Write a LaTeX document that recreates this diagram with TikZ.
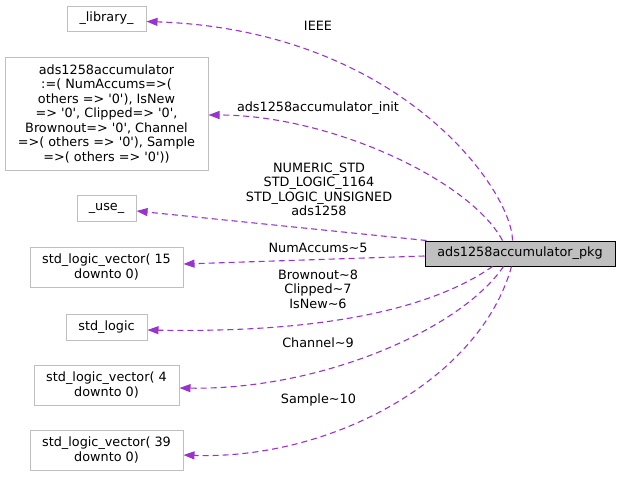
\documentclass[tikz,border=0pt]{standalone}
\usepackage{fontspec}
\setmainfont{DejaVu Sans}
\usetikzlibrary{arrows.meta}
\definecolor{edgec}{HTML}{9A32CD}
\definecolor{boxc}{HTML}{BFBFBF}
\newcommand{\q}{\textquotesingle}
\tikzset{
  every node/.style={font=\fontsize{12.8}{14.5}\selectfont, inner sep=0pt, align=center},
  box/.style={draw=boxc, line width=1pt, fill=white},
  mainbox/.style={draw=black, line width=1pt, fill=boxc},
  dep/.style={draw=edgec, line width=1.1pt, dash pattern=on 6pt off 4pt, -{Triangle[length=11pt,width=8pt]}},
  elabel/.style={}
}
\begin{document}
\begin{tikzpicture}[x=1pt,y=-1pt]
\useasboundingbox (0,0) rectangle (620,477);
% nodes
\node[mainbox, minimum width=190pt, minimum height=25pt] (pkg) at (520,253.5) {ads1258accumulator\_pkg};
\node[box, minimum width=79pt, minimum height=25pt] (lib) at (106.5,18.5) {\_library\_};
\node[box, minimum width=203pt, minimum height=113pt] (acc) at (106.5,113.5) {ads1258accumulator\\ :=( NumAccums=>(\\ others => \q0\q), IsNew\\ => \q0\q, Clipped=> \q0\q,\\ Brownout=> \q0\q, Channel\\ =>( others => \q0\q), Sample\\ =>( others => \q0\q))};
\node[box, minimum width=59pt, minimum height=26pt] (use) at (106.5,208) {\_use\_};
\node[box, minimum width=153pt, minimum height=40pt] (v15) at (106.5,267) {std\_logic\_vector( 15\\ downto 0)};
\node[box, minimum width=81pt, minimum height=26pt] (sl) at (106.5,327) {std\_logic};
\node[box, minimum width=145pt, minimum height=40pt] (v4) at (106.5,385) {std\_logic\_vector( 4\\ downto 0)};
\node[box, minimum width=153pt, minimum height=40pt] (v39) at (106.5,450) {std\_logic\_vector( 39\\ downto 0)};
% edges
\draw[dep] ([xshift=88pt]pkg.north west) .. controls (512,190) and (400,30) .. ([yshift=-3pt]lib.east);
\draw[dep] ([xshift=78pt]pkg.north west) .. controls (470,180) and (330,115) .. ([yshift=-1.5pt]acc.east);
\draw[dep] ([xshift=2pt]pkg.north west) -- ([yshift=-3pt]use.east);
\draw[dep] ([yshift=-2.5pt]pkg.west) -- ([yshift=3pt]v15.east);
\draw[dep] ([xshift=68pt]pkg.south west) .. controls (430,310) and (320,333) .. ([yshift=-3pt]sl.east);
\draw[dep] ([xshift=79pt]pkg.south west) .. controls (460,330) and (320,390) .. ([yshift=-3pt]v4.east);
\draw[dep] ([xshift=87pt]pkg.south west) .. controls (480,380) and (330,460) .. ([yshift=-5pt]v39.east);
% labels
\node[elabel] (l1) at (318,26) {IEEE};
\node[elabel] (l2) at (318,108) {ads1258accumulator\_init};
\node[elabel] (l3) at (319,189.5) {NUMERIC\_STD\\ STD\_LOGIC\_1164\\ STD\_LOGIC\_UNSIGNED\\ ads1258};
\node[elabel] (l4) at (318,248) {NumAccums\textasciitilde 5};
\node[elabel] (l5) at (318,289) {Brownout\textasciitilde 8\\ Clipped\textasciitilde 7\\ IsNew\textasciitilde 6};
\node[elabel] (l6) at (318,343) {Channel\textasciitilde 9};
\node[elabel] (l7) at (318.4,400) {Sample\textasciitilde 10};
\end{tikzpicture}
\end{document}
